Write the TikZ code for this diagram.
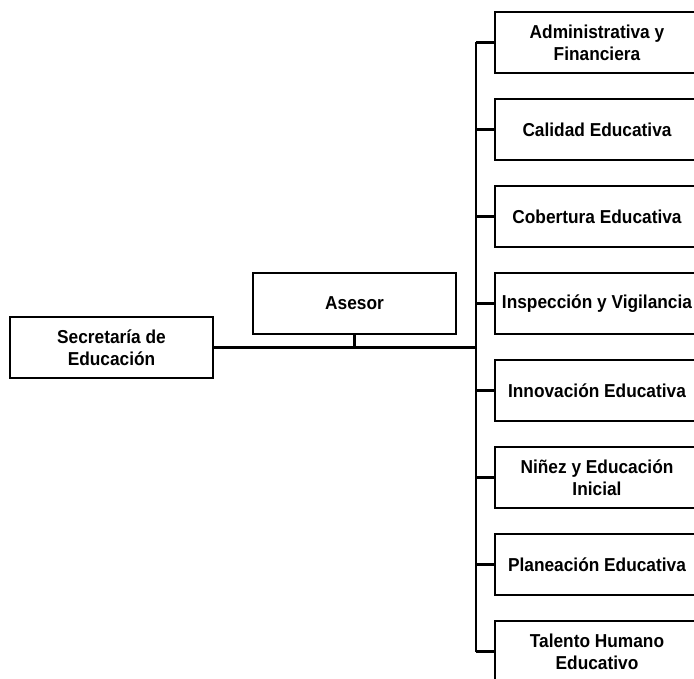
\documentclass[tikz,border=0pt]{standalone}
\usepackage{fontspec}
\setmainfont[FakeStretch=0.925]{Liberation Sans}
\begin{document}
\begin{tikzpicture}[x=1pt,y=-1pt,
  box/.style={draw, line width=2.6pt, minimum width=203pt, minimum height=61pt,
    inner sep=0pt, align=center, font=\bfseries\fontsize{18.7}{22}\selectfont},
  rbox/.style={box, minimum width=204pt},
  conn/.style={line width=2.6pt}]
\useasboundingbox (0,0) rectangle (694,679);
\clip (0,0) rectangle (694,679);
\node[box] (sec) at (111.5,347.5) {Secretaría de\\Educación};
\node[box] (ase) at (354.5,303.5) {Asesor};
\node[rbox] (r1) at (597,42.5) {Administrativa y\\Financiera};
\node[rbox] (r2) at (597,129.5) {Calidad Educativa};
\node[rbox] (r3) at (597,216.5) {Cobertura Educativa};
\node[rbox] (r4) at (597,303.5) {Inspección y Vigilancia};
\node[rbox] (r5) at (597,390.5) {Innovación Educativa};
\node[rbox] (r6) at (597,477.5) {Niñez y Educación\\Inicial};
\node[rbox] (r7) at (597,564.5) {Planeación Educativa};
\node[rbox] (r8) at (597,651.5) {Talento Humano\\Educativo};
\coordinate (vtop) at (476,42.5);
\coordinate (vbot) at (476,651.5);
\draw[conn] (vtop) -- (vbot);
\draw[conn] (sec.east) -- (sec.east -| vtop);
\draw[conn] (ase.south) -- (ase.south |- sec.east);
\foreach \n in {r1,r2,r3,r4,r5,r6,r7,r8}
  \draw[conn] (\n.west) -- (\n.west -| vtop);
\end{tikzpicture}
\end{document}
